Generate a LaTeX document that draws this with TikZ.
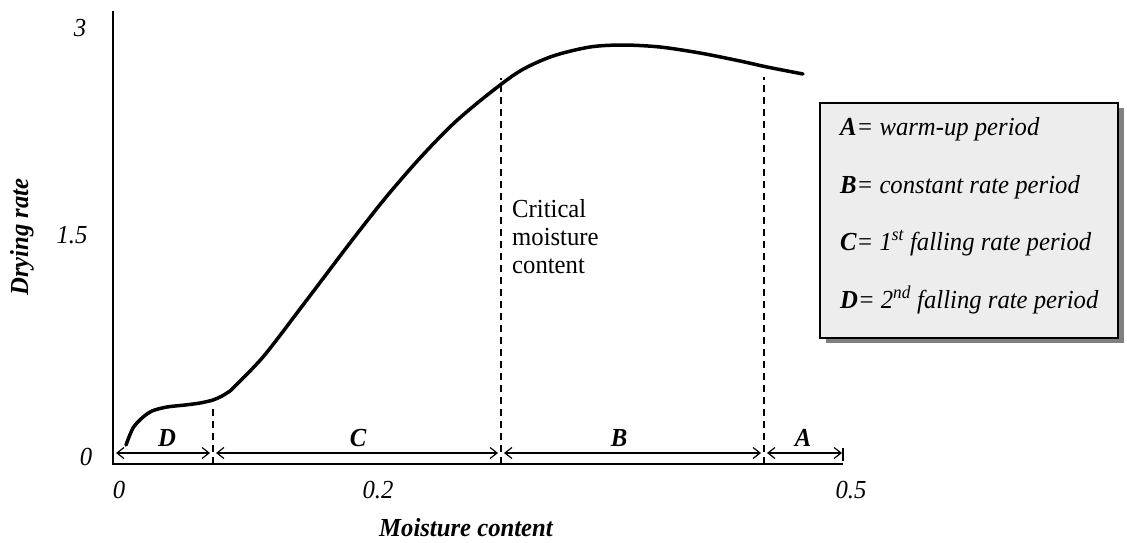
\documentclass[tikz,border=0pt]{standalone}
\usepackage{fontspec}
\setmainfont[FakeStretch=0.95]{Liberation Serif}
\usetikzlibrary{arrows.meta,shadows}

\begin{document}
\begin{tikzpicture}
	[x=1pt,y=-1pt,font=\fontsize{26}{28}\selectfont\itshape,
	 bold/.style={font=\fontsize{26}{28}\selectfont\bfseries\itshape},
	 upright/.style={font=\fontsize{26}{28}\selectfont\upshape},
	 period/.style={{Straight Barb[length=7pt,width=11pt]}-{Straight Barb[length=7pt,width=11pt]},line width=1.2pt,shorten <=3pt,shorten >=3pt},
	 cutline/.style={line width=1.5pt,dash pattern=on 7pt off 5pt},
	 key/.style={anchor=base west,inner sep=0pt}]
	\useasboundingbox (0,0) rectangle (1127,542);

	% axes
	\draw[line width=2pt] (113,11) -- (113,464) -- (843,464);
	\draw[line width=1.5pt] (843,448) -- (843,461);

	% periods
	\foreach \x/\top in {213/405,501/78,764/77}
		\draw[cutline] (\x,464) -- (\x,\top);
	\coordinate (p0) at (113,453);
	\coordinate (p1) at (213,453);
	\coordinate (p2) at (501,453);
	\coordinate (p3) at (764,453);
	\coordinate (p4) at (845,453);
	\foreach \from/\to in {p0/p1,p1/p2,p2/p3,p3/p4}
		\draw[period] (\from) -- (\to);
	\foreach \n/\x in {D/167,C/358,B/619,A/803}
		\node[bold] (l\n) at (\x,438) {\n};

	% drying curve
	\draw[line width=3.5pt,line cap=round,line join=round]
		plot[smooth] coordinates {(126,445) (133,428) (142,418) (152,411) (167,407) (185,405) (200,403) (213,400) (222,396) (230,391)}
		plot[smooth] coordinates {(230,391) (263,357) (303,305) (353,239) (387,196) (420,158) (453,124) (486,96) (520,71) (553,56) (590,47) (623,45) (660,47) (700,53) (740,61) (767,67) (803,74)};

	\node[upright,anchor=north west,inner sep=0pt,align=left] (crit) at (512,199) {Critical\\moisture\\content};

	% ticks and titles
	\node (y0) at (86,457) {0};
	\node (y1) at (72,235) {1.5};
	\node (y2) at (80,28) {3};
	\node (x0) at (119,490) {0};
	\node (x1) at (378,490) {0.2};
	\node (x2) at (851,490) {0.5};
	\node[bold] (xt) at (466,528) {Moisture content};
	\node[bold,rotate=90] (yt) at (22,237) {Drying rate};

	% legend
	\node[draw,line width=2pt,fill=gray!14,minimum width=298pt,minimum height=235pt,
		drop shadow={shadow xshift=6pt,shadow yshift=-5pt,fill=black!50,opacity=1}] (legend) at (969,220.5) {};
	\node[key] (kA) at (840,135) {{\bfseries A}= warm-up period};
	\node[key] (kB) at (840,193) {{\bfseries B}= constant rate period};
	\node[key] (kC) at (840,250) {{\bfseries C}= 1\textsuperscript{st} falling rate period};
	\node[key] (kD) at (840,308) {{\bfseries D}= 2\textsuperscript{nd} falling rate period};
\end{tikzpicture}
\end{document}
